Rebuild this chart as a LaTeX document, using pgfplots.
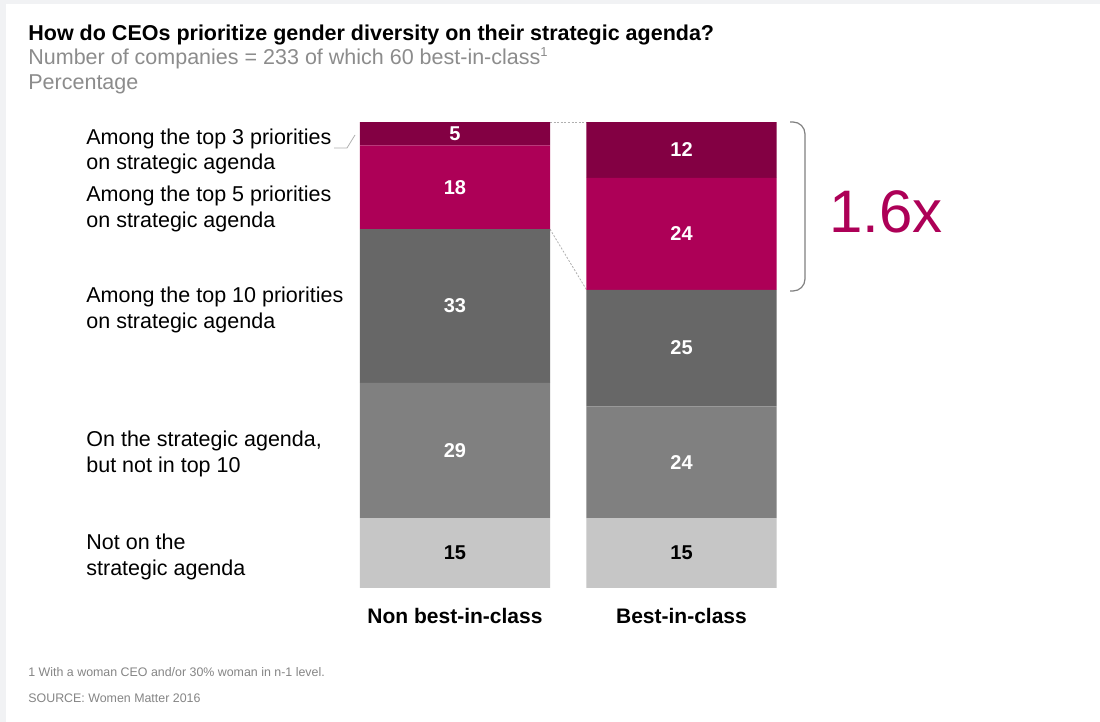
\documentclass[border=0pt]{standalone}
\usepackage{pgfplots}
\pgfplotsset{compat=1.18}
\usepackage{fontspec}
\setmainfont{Liberation Sans}
\definecolor{cMaroon}{HTML}{830043}
\definecolor{cMag}{HTML}{AD0057}
\definecolor{cDark}{HTML}{676767}
\definecolor{cMid}{HTML}{808080}
\definecolor{cLight}{HTML}{C6C6C6}
\definecolor{cBg}{HTML}{F1F2F4}
\definecolor{cSub}{HTML}{8C8C8C}
\definecolor{cFoot}{HTML}{858585}
\definecolor{cLine}{HTML}{B0B0B0}
\newcommand\fs[1]{\fontsize{#1}{#1}\selectfont}
\pgfplotsset{
  geom/.style={
    at={(180pt,-294pt)}, anchor=south west,
    scale only axis, width=208pt, height=233pt,
    xmin=-0.4194, xmax=1.4172, ymin=0, ymax=100,
    hide axis, clip=false,
  }
}
\begin{document}
\begin{tikzpicture}[x=0.5pt,y=-0.5pt]
\fill[cBg] (0,0) rectangle (1100,722);
\fill[white] (6,4) rectangle (1100,722);
% titles
\node[anchor=base west, inner sep=0, font=\bfseries\fs{10.75}] at (28,41) {How do CEOs prioritize gender diversity on their strategic agenda?};
\node[anchor=base west, inner sep=0, font=\fs{10.75}, text=cSub] at (28,64.5) {Number of companies = 233 of which 60 best-in-class\raisebox{4.2pt}{\fs{6.5}1}};
\node[anchor=base west, inner sep=0, font=\fs{10.75}, text=cSub] at (28,89.5) {Percentage};
% left labels
\begin{scope}[every node/.style={anchor=base west, inner sep=0, font=\fs{10.75}}]
\node at (86,144.3) {Among the top 3 priorities};
\node at (86,170) {on strategic agenda};
\node at (86,201.7) {Among the top 5 priorities};
\node at (86,227.3) {on strategic agenda};
\node at (86,302.7) {Among the top 10 priorities};
\node at (86,328.3) {on strategic agenda};
\node at (86,446.7) {On the strategic agenda,};
\node at (86,472.7) {but not in top 10};
\node at (86,549.3) {Not on the};
\node at (86,575) {strategic agenda};
\end{scope}
\draw[cLine, line width=0.4pt] (334,148) -- (347,148) -- (355,135);
% footnotes
\node[anchor=base west, inner sep=0, font=\fs{6.2}, text=cFoot] at (28,676.7) {1 With a woman CEO and/or 30\% woman in n-1 level.};
\node[anchor=base west, inner sep=0, font=\fs{6.2}, text=cFoot] at (28,702) {SOURCE: Women Matter 2016};
% bracket and multiplier
\draw[cMid, line width=0.6pt, rounded corners=6pt] (790,122) -- (805,122) -- (805,291) -- (790,291);
\node[anchor=base, inner sep=0, font=\fs{30}, text=cMag] at (886,233) {1.6x};

\begin{axis}[geom, ybar stacked, bar width=0.8389]
\addplot[fill=cLight, draw=none] coordinates {(0,15) (1,15)};
\addplot[fill=cMid, draw=none] coordinates {(0,29) (1,24)};
\addplot[fill=cDark, draw=none] coordinates {(0,33) (1,25)};
\addplot[fill=cMag, draw=none] coordinates {(0,18) (1,24)};
\addplot[fill=cMaroon, draw=none] coordinates {(0,5) (1,12)};
\draw[cLine, line width=0.4pt, dash pattern=on 1pt off 0.8pt] (axis cs:0.4194,100) -- (axis cs:0.5806,100);
\draw[cLine, line width=0.4pt, dash pattern=on 1pt off 0.8pt] (axis cs:0.4194,77) -- (axis cs:0.5806,64);
\end{axis}

\begin{axis}[geom]
\addplot[draw=none, mark=none, nodes near coords, point meta=explicit symbolic,
  every node near coord/.append style={anchor=center, text=white, font=\bfseries\fs{10}}]
  coordinates {(0,29.5)[29] (0,60.5)[33] (0,86)[18] (0,97.5)[5]
               (1,27)[24] (1,51.5)[25] (1,76)[24] (1,94)[12]};
\addplot[draw=none, mark=none, nodes near coords, point meta=explicit symbolic,
  every node near coord/.append style={anchor=center, text=black, font=\bfseries\fs{10}}]
  coordinates {(0,7.5)[15] (1,7.5)[15]};
\node[anchor=base, inner sep=0, font=\bfseries\fs{10.5}] at (axis cs:0,-7.7) {Non best-in-class};
\node[anchor=base, inner sep=0, font=\bfseries\fs{10.5}] at (axis cs:1,-7.7) {Best-in-class};
\end{axis}
\end{tikzpicture}
\end{document}
